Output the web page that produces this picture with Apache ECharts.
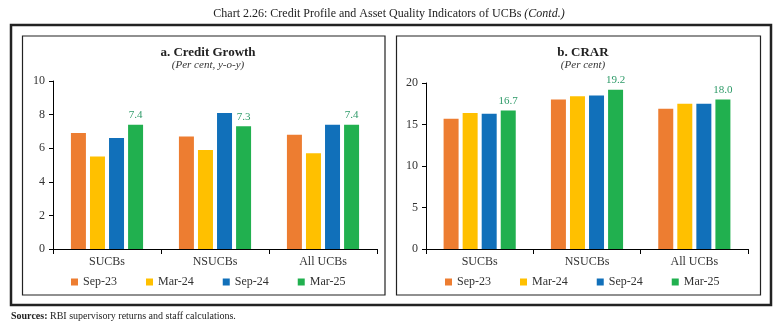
<!DOCTYPE html>
<html>
<head>
<meta charset="utf-8">
<script src="https://cdn.jsdelivr.net/npm/echarts@6/dist/echarts.min.js"></script>
<style>html,body{margin:0;padding:0;background:#fff}#c{width:778px;height:325px}</style>
</head>
<body>
<div id="c"></div>
<script>
const categories = ['SUCBs', 'NSUCBs', 'All UCBs'];
const seriesNames = ['Sep-23', 'Mar-24', 'Sep-24', 'Mar-25'];
// a. Credit Growth
const growthSep23 = [6.9, 6.7, 6.8];
const growthMar24 = [5.5, 5.9, 5.7];
const growthSep24 = [6.6, 8.1, 7.4];
const growthMar25 = [7.4, 7.3, 7.4];
// b. CRAR
const crarSep23 = [15.7, 18.0, 16.9];
const crarMar24 = [16.4, 18.4, 17.5];
const crarSep24 = [16.3, 18.5, 17.5];
const crarMar25 = [16.7, 19.2, 18.0];
const growthTicks = [0, 2, 4, 6, 8, 10];
const crarTicks = [0, 5, 10, 15, 20];

const colors = ['#ED7D31', '#FFC000', '#1170BA', '#21B04F'];
const FONT = '"Liberation Serif", serif';

const chart = echarts.init(document.getElementById('c'), null, {renderer: 'canvas'});

function mkSeries(name, data, idx, gi, showLabel, decimals) {
  return {
    name: name, type: 'bar', xAxisIndex: gi, yAxisIndex: gi,
    data: data, barWidth: 15, barGap: '27%',
    itemStyle: {color: colors[idx]},
    label: showLabel ? {show: true, position: 'top', distance: 4, color: '#2E9A68',
      fontFamily: FONT, fontSize: 11, formatter: p => p.value.toFixed(decimals)} : {show: false},
    emphasis: {disabled: true}, animation: false
  };
}

const axisCommon = {
  axisLine: {show: true, lineStyle: {color: '#000', width: 1}},
  axisTick: {show: true, inside: false, length: 4, lineStyle: {color: '#000'}},
  splitLine: {show: false},
  axisLabel: {color: '#333', fontFamily: FONT, fontSize: 12}
};

const legendCommon = {
  padding: 0, itemWidth: 7, itemHeight: 7, itemGap: 29, icon: 'rect',
  textStyle: {fontFamily: FONT, fontSize: 12, color: '#333'}, selectedMode: false
};

const option = {
  animation: false,
  backgroundColor: '#fff',
  title: [
    {text: 'Chart 2.26: Credit Profile and Asset Quality Indicators of UCBs {i|(Contd.)}', left: 'center', top: 3,
      textStyle: {fontFamily: FONT, fontSize: 12, fontWeight: 'normal', color: '#222',
        rich: {i: {fontFamily: FONT, fontSize: 12, fontStyle: 'italic', color: '#222'}}}},
    {text: 'a. Credit Growth', left: 203, textAlign: 'center', top: 41,
      textStyle: {fontFamily: FONT, fontSize: 13, fontWeight: 'bold', color: '#222'}},
    {text: '(Per cent, y-o-y)', left: 203, textAlign: 'center', top: 55,
      textStyle: {fontFamily: FONT, fontSize: 11, fontStyle: 'italic', fontWeight: 'normal', color: '#333'}},
    {text: 'b. CRAR', left: 578, textAlign: 'center', top: 41,
      textStyle: {fontFamily: FONT, fontSize: 13, fontWeight: 'bold', color: '#222'}},
    {text: '(Per cent)', left: 578, textAlign: 'center', top: 55,
      textStyle: {fontFamily: FONT, fontSize: 11, fontStyle: 'italic', fontWeight: 'normal', color: '#333'}},
    {text: '{b|Sources:} RBI supervisory returns and staff calculations.', left: 6, top: 306,
      textStyle: {fontFamily: FONT, fontSize: 10, fontWeight: 'normal', color: '#222',
        rich: {b: {fontFamily: FONT, fontSize: 10, fontWeight: 'bold', color: '#222'}}}}
  ],
  legend: [
    Object.assign({}, legendCommon, {data: seriesNames, left: 71, top: 276}),
    Object.assign({}, legendCommon, {data: seriesNames.slice(), left: 445, top: 276})
  ],
  grid: [
    {left: 53, top: 81, width: 324, height: 168, containLabel: false},
    {left: 426, top: 83, width: 322, height: 166, containLabel: false}
  ],
  xAxis: [
    Object.assign({}, axisCommon, {type: 'category', gridIndex: 0, data: categories,
      axisTick: {show: true, length: 5, alignWithLabel: false, lineStyle: {color: '#000'}},
      axisLabel: {color: '#333', fontFamily: FONT, fontSize: 12, margin: 7}}),
    Object.assign({}, axisCommon, {type: 'category', gridIndex: 1, data: categories,
      axisTick: {show: true, length: 5, alignWithLabel: false, lineStyle: {color: '#000'}},
      axisLabel: {color: '#333', fontFamily: FONT, fontSize: 12, margin: 7}})
  ],
  yAxis: [
    Object.assign({}, axisCommon, {type: 'value', gridIndex: 0, min: growthTicks[0],
      max: growthTicks[growthTicks.length - 1], interval: growthTicks[1] - growthTicks[0]}),
    Object.assign({}, axisCommon, {type: 'value', gridIndex: 1, min: crarTicks[0],
      max: crarTicks[crarTicks.length - 1], interval: crarTicks[1] - crarTicks[0]})
  ],
  series: [
    mkSeries('Sep-23', growthSep23, 0, 0, false, 1),
    mkSeries('Mar-24', growthMar24, 1, 0, false, 1),
    mkSeries('Sep-24', growthSep24, 2, 0, false, 1),
    mkSeries('Mar-25', growthMar25, 3, 0, true, 1),
    mkSeries('Sep-23', crarSep23, 0, 1, false, 1),
    mkSeries('Mar-24', crarMar24, 1, 1, false, 1),
    mkSeries('Sep-24', crarSep24, 2, 1, false, 1),
    mkSeries('Mar-25', crarMar25, 3, 1, true, 1)
  ],
  graphic: [
    {type: 'rect', shape: {x: 11, y: 25, width: 760, height: 280}, silent: true,
      style: {fill: 'none', stroke: '#222', lineWidth: 2.5}},
    {type: 'rect', shape: {x: 22.5, y: 36, width: 362.5, height: 259}, silent: true,
      style: {fill: 'none', stroke: '#222', lineWidth: 1.2}},
    {type: 'rect', shape: {x: 396.5, y: 36, width: 364, height: 259}, silent: true,
      style: {fill: 'none', stroke: '#222', lineWidth: 1.2}}
  ]
};
chart.setOption(option);
</script>
</body>
</html>
